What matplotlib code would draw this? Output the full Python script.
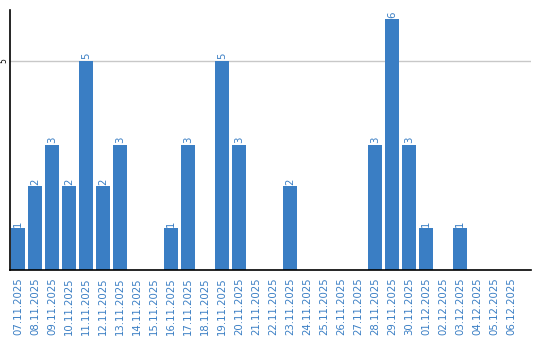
import matplotlib
matplotlib.use("Agg")
import matplotlib.pyplot as plt

dates = [
    "07.11.2025", "08.11.2025", "09.11.2025", "10.11.2025", "11.11.2025",
    "12.11.2025", "13.11.2025", "14.11.2025", "15.11.2025", "16.11.2025",
    "17.11.2025", "18.11.2025", "19.11.2025", "20.11.2025", "21.11.2025",
    "22.11.2025", "23.11.2025", "24.11.2025", "25.11.2025", "26.11.2025",
    "27.11.2025", "28.11.2025", "29.11.2025", "30.11.2025", "01.12.2025",
    "02.12.2025", "03.12.2025", "04.12.2025", "05.12.2025", "06.12.2025",
]
counts = [1, 2, 3, 2, 5, 2, 3, 0, 0, 1,
          3, 0, 5, 3, 0, 0, 2, 0, 0, 0,
          0, 3, 6, 3, 1, 0, 1, 0, 0, 0]
y_ticks = [5]

BLUE = "#3a7ec4"

fig = plt.figure(figsize=(5.4, 3.4), dpi=100)
ax = fig.add_axes([10 / 540, 1 - 270 / 340, 521 / 540, 260 / 340])

x = list(range(len(dates)))
ax.bar(x, counts, width=0.82, color=BLUE, zorder=2)

for xi, v in zip(x, counts):
    if v > 0:
        ax.text(xi, v + 0.04, str(v), rotation=90, ha="center", va="bottom",
                fontsize=7.3, color=BLUE)

ax.set_xlim(-0.47, 30.18)
ax.set_ylim(0, 6.22)
ax.set_yticks(y_ticks)
ax.set_yticklabels([str(t) for t in y_ticks], rotation=90, va="center", fontsize=5.5)
ax.set_xticks(x)
ax.set_xticklabels(dates, rotation=90, fontsize=7.3, color=BLUE)
ax.tick_params(axis="x", length=0, pad=5)
ax.tick_params(axis="y", length=0, pad=1)
ax.grid(axis="y", color="#c8c8c8", linewidth=1, zorder=0)

for side in ("top", "right"):
    ax.spines[side].set_visible(False)
for side in ("left", "bottom"):
    ax.spines[side].set_color("black")
    ax.spines[side].set_linewidth(1.2)
ax.spines["bottom"].set_zorder(3)

fig.savefig("out.png", dpi=100)
